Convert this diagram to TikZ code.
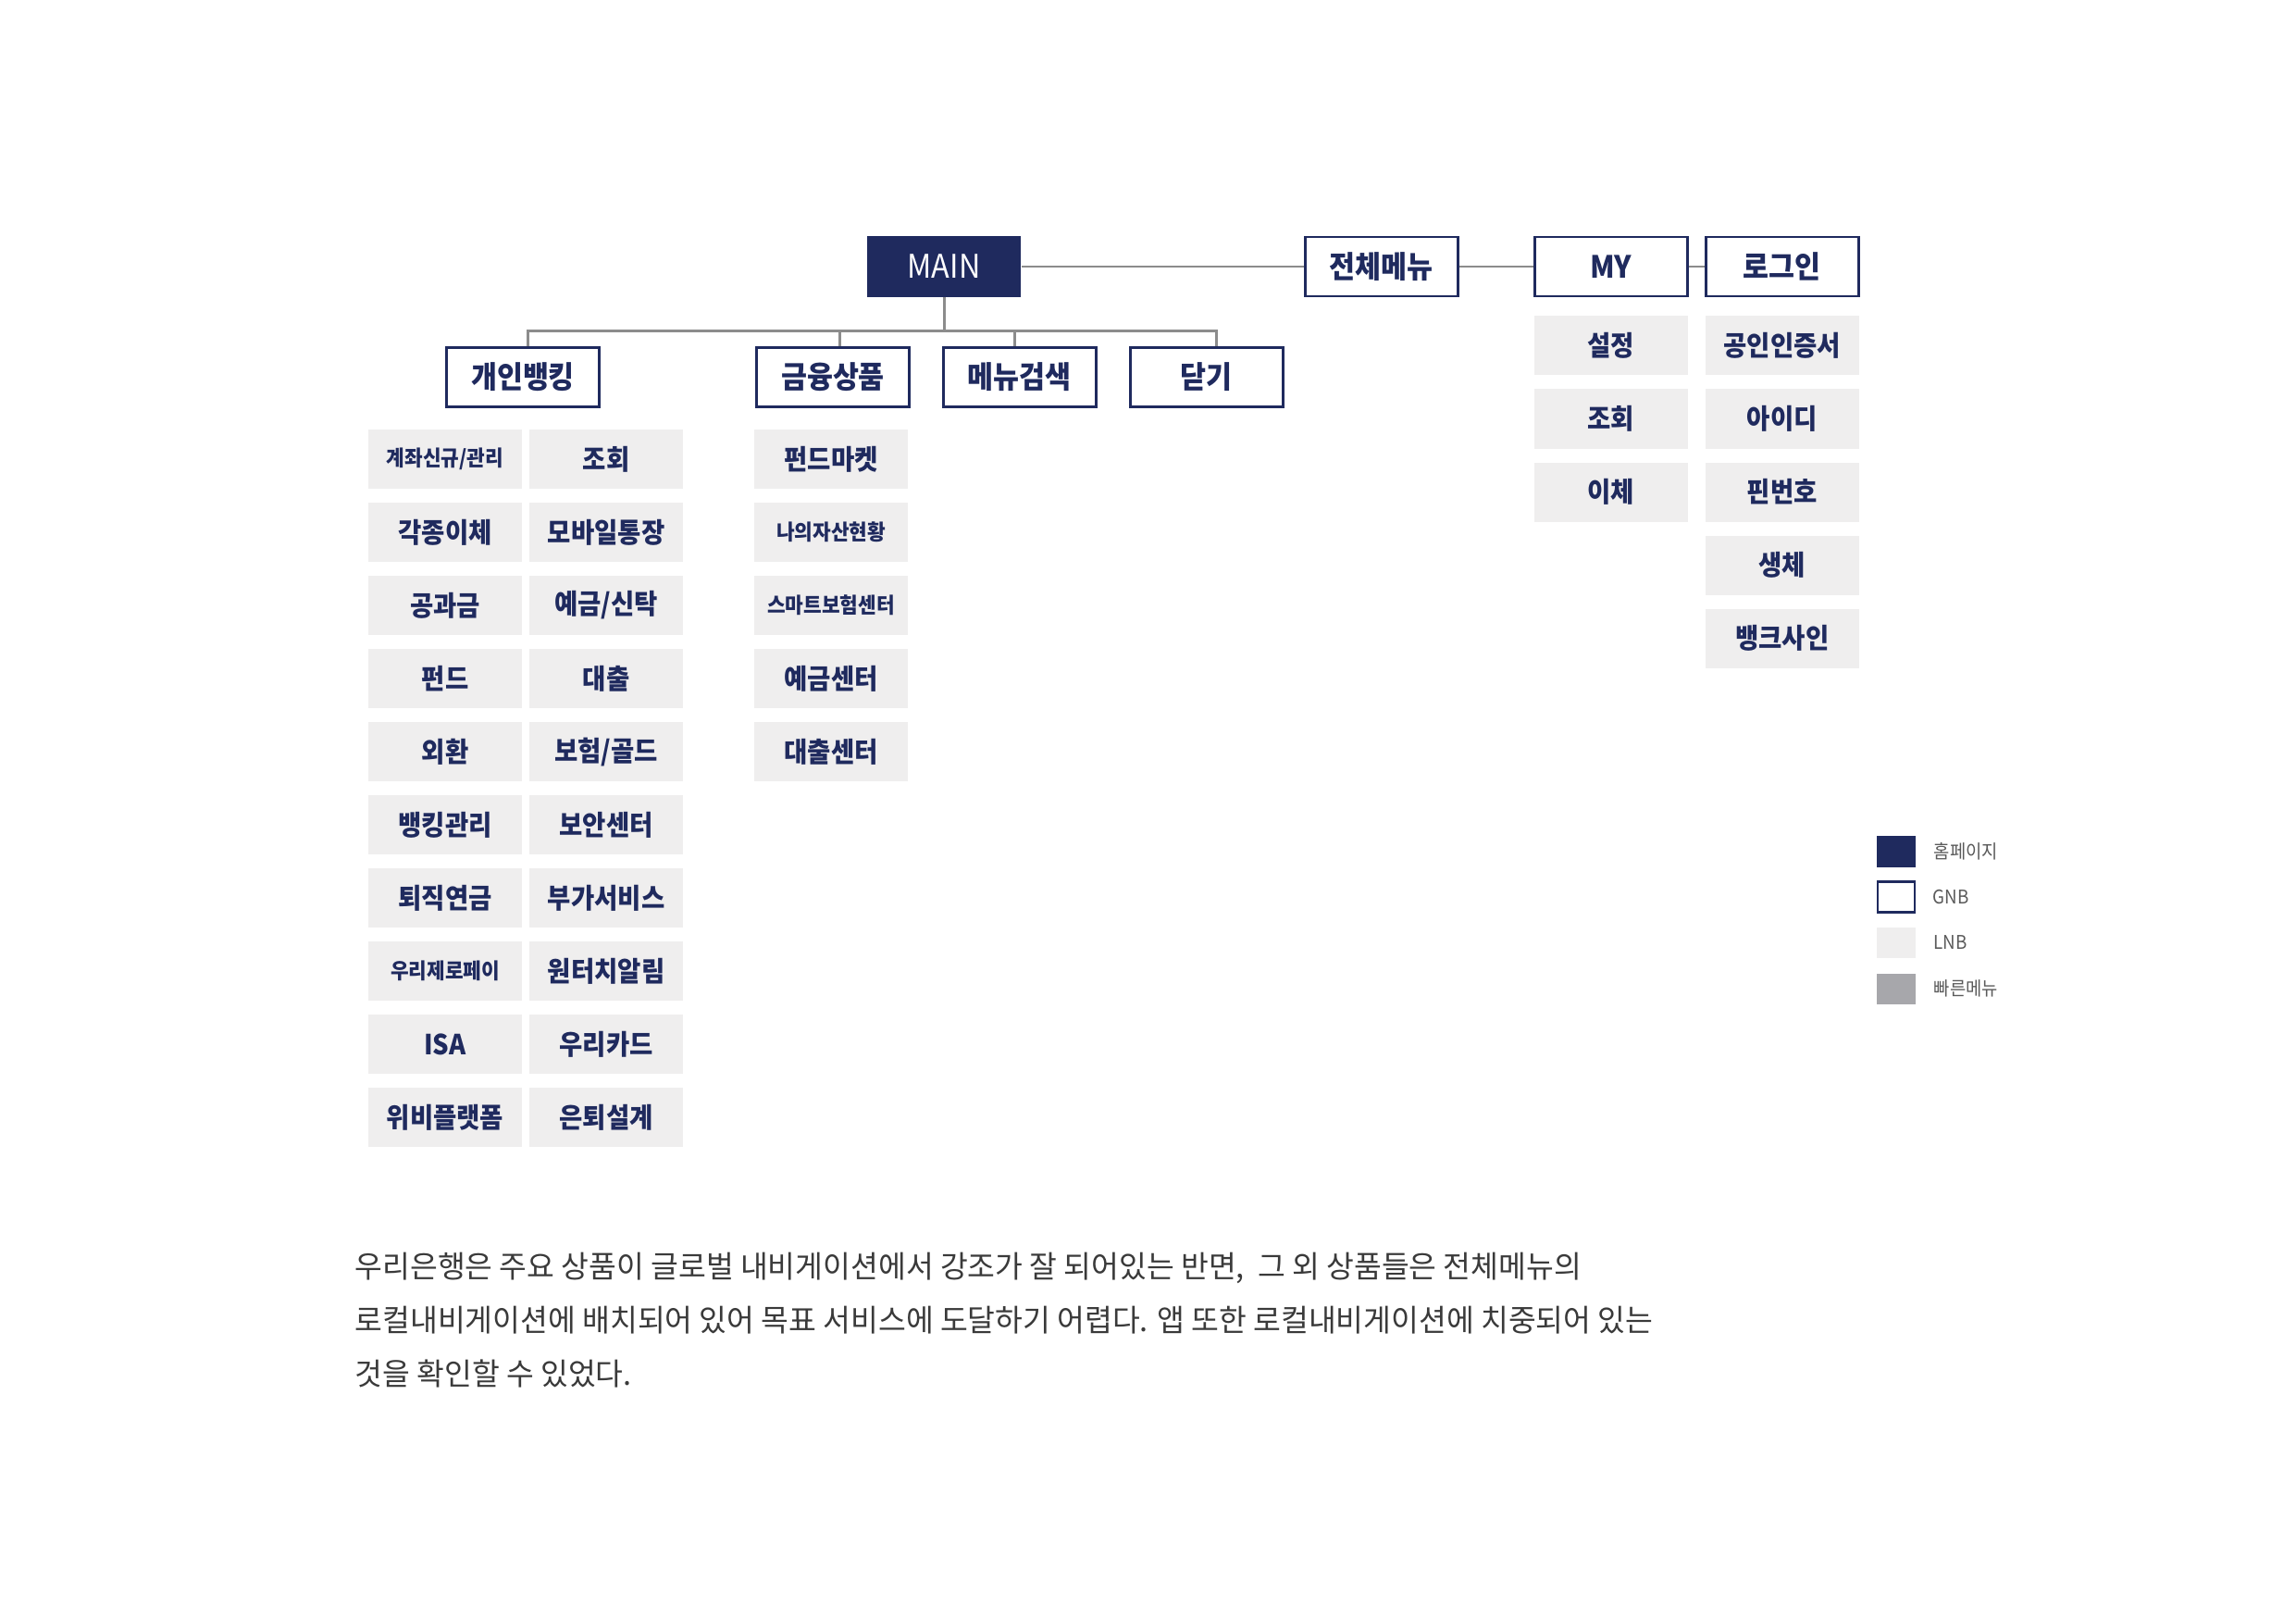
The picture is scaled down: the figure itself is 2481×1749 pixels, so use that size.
\documentclass[tikz,border=0pt]{standalone}
\usepackage{fontspec}
\newfontfamily\krfont[FakeStretch=0.92]{Noto Sans CJK KR}
\newfontfamily\bodyfont[FakeStretch=0.98]{Noto Sans CJK KR}
\usetikzlibrary{positioning}

\definecolor{navy}{RGB}{31,42,94}
\definecolor{lnbgrey}{RGB}{239,238,238}
\definecolor{quickgrey}{RGB}{167,167,171}
\definecolor{linegrey}{RGB}{140,140,140}
\definecolor{bodygrey}{RGB}{58,58,58}
\definecolor{legendgrey}{RGB}{90,90,90}

\tikzset{
	home/.style={fill=navy, text=white, minimum width=1.66cm, minimum height=0.65cm, inner sep=0pt,
		font=\krfont\fontsize{10pt}{12pt}\selectfont},
	gnb/.style={draw=navy, line width=0.8pt, fill=white, text=navy, minimum width=1.65cm,
		minimum height=0.64cm, inner sep=0pt, font=\krfont\bfseries\fontsize{9.4pt}{11pt}\selectfont},
	lnb/.style={fill=lnbgrey, text=navy, minimum width=1.66cm, minimum height=0.64cm, inner sep=0pt,
		outer sep=0pt, font=\krfont\bfseries\fontsize{8.5pt}{10pt}\selectfont},
	lnbsmall/.style={lnb, font=\krfont\bfseries\fontsize{6.6pt}{8pt}\selectfont},
	link/.style={draw=linegrey, line width=0.85pt},
	legendkey/.style={minimum width=0.42cm, minimum height=0.33cm, inner sep=0pt, outer sep=0pt},
	legendlabel/.style={text=legendgrey, inner sep=0pt, font=\krfont\fontsize{5.8pt}{7pt}\selectfont},
}

\begin{document}
\begin{tikzpicture}[
		x=0.01cm, y=-0.01cm,
		node distance=0.15cm,
	]
		\fill[white] (0,0) rectangle (2481,1749);
		\useasboundingbox (0,0) rectangle (2481,1749);

		\node [home] (main) at (1020,288) {MAIN};
		\node [gnb, right=3.05cm of main] (allmenu) {전체메뉴};
		\node [gnb, right=0.8cm of allmenu] (my) {MY};
		\node [gnb, right=0.17cm of my] (login) {로그인};

		\node [gnb] (personal) at (565,407.5) {개인뱅킹};
		\node [gnb] (product) at (900,407.5) {금융상품};
		\node [gnb, right=0.34cm of product] (search) {메뉴검색};
		\node [gnb, right=0.34cm of search] (close) {닫기};

		\node [lnbsmall] (pa1) at (481,496) {계좌신규/관리};
		\node [lnb, below=of pa1] (pa2) {각종이체};
		\node [lnb, below=of pa2] (pa3) {공과금};
		\node [lnb, below=of pa3] (pa4) {펀드};
		\node [lnb, below=of pa4] (pa5) {외환};
		\node [lnb, below=of pa5] (pa6) {뱅킹관리};
		\node [lnb, below=of pa6] (pa7) {퇴직연금};
		\node [lnbsmall, below=of pa7] (pa8) {우리제로페이};
		\node [lnb, below=of pa8] (pa9) {ISA};
		\node [lnb, below=of pa9] (pa10) {위비플랫폼};

		\node [lnb, right=0.08cm of pa1] (pb1) {조회};
		\node [lnb, below=of pb1] (pb2) {모바일통장};
		\node [lnb, below=of pb2] (pb3) {예금/신탁};
		\node [lnb, below=of pb3] (pb4) {대출};
		\node [lnb, below=of pb4] (pb5) {보험/골드};
		\node [lnb, below=of pb5] (pb6) {보안센터};
		\node [lnb, below=of pb6] (pb7) {부가서비스};
		\node [lnb, below=of pb7] (pb8) {원터치알림};
		\node [lnb, below=of pb8] (pb9) {우리카드};
		\node [lnb, below=of pb9] (pb10) {은퇴설계};

		\node [lnb] (fp1) at (898,496) {펀드마켓};
		\node [lnbsmall, below=of fp1] (fp2) {나의자산현황};
		\node [lnbsmall, below=of fp2] (fp3) {스마트보험센터};
		\node [lnb, below=of fp3] (fp4) {예금센터};
		\node [lnb, below=of fp4] (fp5) {대출센터};

		\node [lnb, below=0.2cm of my] (my1) {설정};
		\node [lnb, below=of my1] (my2) {조회};
		\node [lnb, below=of my2] (my3) {이체};

		\node [lnb, below=0.2cm of login] (lg1) {공인인증서};
		\node [lnb, below=of lg1] (lg2) {아이디};
		\node [lnb, below=of lg2] (lg3) {핀번호};
		\node [lnb, below=of lg3] (lg4) {생체};
		\node [lnb, below=of lg4] (lg5) {뱅크사인};

		\coordinate (bus) at ([yshift=-0.36cm]main.south);
		\draw [link] (main) -- (allmenu);
		\draw [link] (allmenu) -- (my);
		\draw [link] (my) -- (login);
		\draw [link] (main) -- (bus);
		\draw [link] ([xshift=0.05cm]personal.north) |- (bus) -| ([xshift=0.11cm]close.north);
		\draw [link] ([xshift=0.07cm]product.north) |- (bus);
		\draw [link] ([xshift=-0.05cm]search.north) |- (bus);

		\node [legendkey, fill=navy] (homekey) at (2049,920) {};
		\node [legendkey, draw=navy, line width=0.8pt, minimum width=0.4cm, below=0.16cm of homekey] (gnbkey) {};
		\node [legendkey, fill=lnbgrey, below=0.16cm of gnbkey] (lnbkey) {};
		\node [legendkey, fill=quickgrey, below=0.17cm of lnbkey] (quickkey) {};
		\node [legendlabel, right=0.19cm of homekey] (homelabel) {홈페이지};
		\node [legendlabel, right=0.19cm of gnbkey] (gnblabel) {GNB};
		\node [legendlabel, right=0.19cm of lnbkey] (lnblabel) {LNB};
		\node [legendlabel, right=0.19cm of quickkey] (quicklabel) {빠른메뉴};

		\node [anchor=north west, inner sep=0pt, align=left, text=bodygrey,
			font=\bodyfont\fontsize{9.4pt}{16.5pt}\selectfont] (summary) at (383,1352)
			{우리은행은 주요 상품이 글로벌 내비게이션에서 강조가 잘 되어있는 반면, \ 그 외 상품들은 전체메뉴의\\
			로컬내비게이션에 배치되어 있어 목표 서비스에 도달하기 어렵다. 앱 또한 로컬내비게이션에 치중되어 있는\\
			것을 확인할 수 있었다.};
	\end{tikzpicture}
\end{document}
